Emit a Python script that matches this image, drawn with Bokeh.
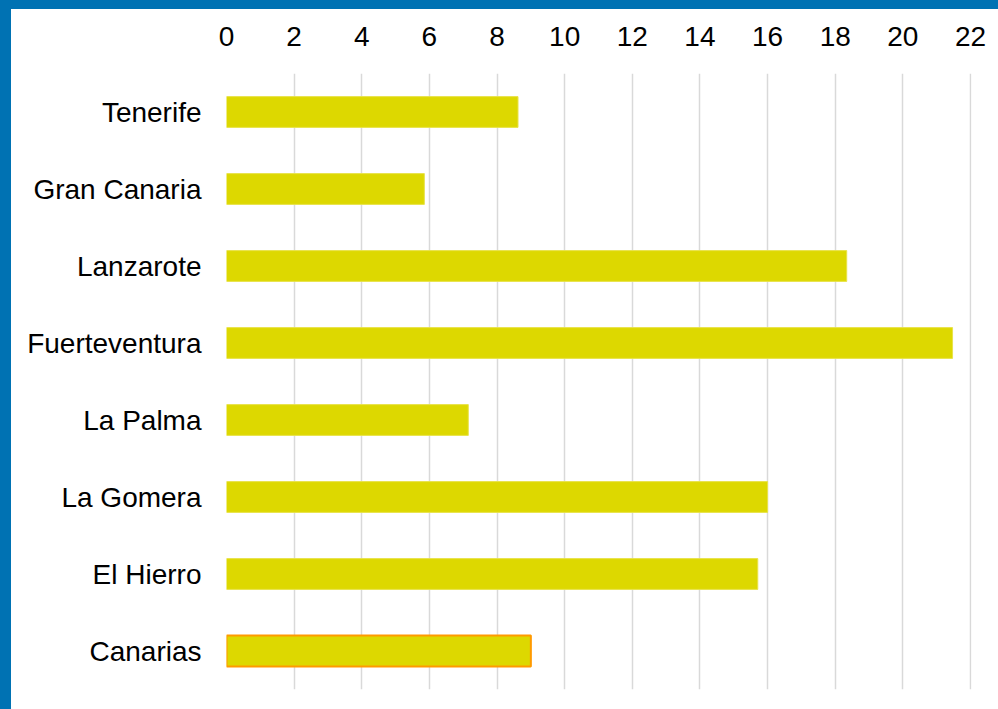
from bokeh.plotting import figure
from bokeh.models import ColumnDataSource, FactorRange, Range1d, LinearAxis, FixedTicker
from bokeh.embed import file_html
from bokeh.resources import INLINE

islands = ["Tenerife", "Gran Canaria", "Lanzarote", "Fuerteventura",
           "La Palma", "La Gomera", "El Hierro", "Canarias"]
values = [8.62, 5.85, 18.34, 21.47, 7.15, 16.0, 15.71, 9.0]
x_ticks = [0, 2, 4, 6, 8, 10, 12, 14, 16, 18, 20, 22]

bar_fill = "#DDD800"
line_cols = ["#E8E34A"] * 7 + ["#FF9A00"]
line_w = [1] * 7 + [2]

src = ColumnDataSource(dict(y=islands, right=values, lc=line_cols, lw=line_w))

FONT = "Liberation Sans"
BLUE = "#0072B3"

p = figure(width=987, height=700, output_backend="svg", toolbar_location=None,
           y_range=FactorRange(*reversed(islands), range_padding=0),
           x_range=Range1d(0, 22.03),
           x_axis_location=None,
           min_border_left=215, min_border_right=38, min_border_top=64, min_border_bottom=29)
p.styles = {"box-sizing": "content-box",
            "border-left": f"11px solid {BLUE}", "border-top": f"9px solid {BLUE}"}
p.outline_line_color = None
p.background_fill_color = "white"
p.border_fill_color = "white"

p.hbar(y="y", left=0, right="right", height=0.4, source=src,
       fill_color=bar_fill, line_color="lc", line_width="lw")

top = LinearAxis(ticker=FixedTicker(ticks=x_ticks))
top.axis_line_color = None
top.major_tick_line_color = None
top.minor_tick_line_color = None
top.major_label_text_font = FONT
top.major_label_text_font_size = "28px"
top.major_label_text_color = "black"
top.major_label_standoff = 22
p.add_layout(top, "above")

p.xgrid.ticker = FixedTicker(ticks=x_ticks)
p.xgrid.grid_line_color = "#D9D9D9"
p.xgrid.grid_line_width = 1.5
p.ygrid.grid_line_color = None

ya = p.yaxis[0]
ya.axis_line_color = None
ya.major_tick_line_color = None
ya.minor_tick_line_color = None
ya.major_label_text_font = FONT
ya.major_label_text_font_size = "28px"
ya.major_label_text_color = "black"
ya.major_label_standoff = 19

open("out.html", "w").write(file_html(p, INLINE))
